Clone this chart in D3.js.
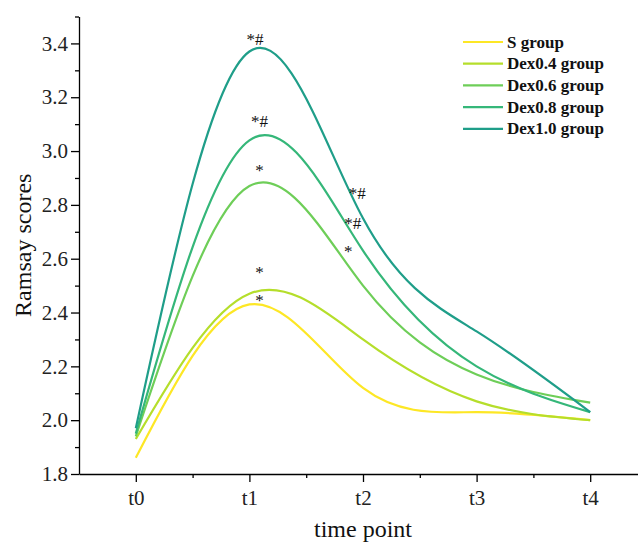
<!DOCTYPE html>
<html>
<head>
<meta charset="utf-8">
<script src="https://cdn.jsdelivr.net/npm/d3@7"></script>
<style>
  body { margin: 0; background: #fff; }
  svg { display: block; }
</style>
</head>
<body>
<div id="container"></div>
<script>
// time points on the x axis
var timeLabels = ["t0", "t1", "t2", "t3", "t4"];

// one series per group
var groupNames = ["S group", "Dex0.4 group", "Dex0.6 group", "Dex0.8 group", "Dex1.0 group"];
var groupColors = ["#fde725", "#b5de2b", "#6ece58", "#35b779", "#1f9e89"];

var sGroup   = [1.86, 2.43, 2.12, 2.03, 2.00];
var dex04    = [1.93, 2.47, 2.30, 2.07, 2.00];
var dex06    = [1.94, 2.87, 2.50, 2.17, 2.065];
var dex08    = [1.95, 3.04, 2.63, 2.20, 2.03];
var dex10    = [1.97, 3.37, 2.75, 2.33, 2.03];

var yTicks = [1.8, 2.0, 2.2, 2.4, 2.6, 2.8, 3.0, 3.2, 3.4];

// significance marks, placed in data units (time index, score)
var markText = ["*#", "*#", "*", "*", "*", "*#", "*#", "*"];
var markT    = [1.05, 1.09, 1.09, 1.09, 1.09, 1.95, 1.91, 1.87];
var markV    = [3.395, 3.09, 2.908, 2.528, 2.424, 2.822, 2.71, 2.606];

function makeChart() {
	var w = 638, h = 546;
	var series = [sGroup, dex04, dex06, dex08, dex10];

	var svg = d3.select("#container")
		.append("svg")
		.attr("width", w)
		.attr("height", h);

	var xScale = d3.scaleLinear()
		.domain([-0.5, 4.5])
		.range([79, 647]);

	var yScale = d3.scaleLinear()
		.domain([1.8, 3.5])
		.range([474, 16.5]);

	var font = "'Liberation Serif', 'Times New Roman', serif";

	// curves
	var line = d3.line()
		.x(function(d, i) { return xScale(i); })
		.y(function(d) { return yScale(d); })
		.curve(d3.curveNatural);

	svg.append("g")
		.selectAll("path")
		.data(series)
		.enter()
		.append("path")
		.attr("d", line)
		.attr("fill", "none")
		.attr("stroke", function(d, i) { return groupColors[i]; })
		.attr("stroke-width", 2.2);

	// y axis
	svg.append("g")
		.attr("transform", "translate(" + xScale(-0.5) + ",0)")
		.call(d3.axisLeft(yScale).tickValues(yTicks).tickFormat(d3.format(".1f")).tickSize(8).tickPadding(3).tickSizeOuter(0));
	svg.append("g")
		.attr("transform", "translate(" + xScale(-0.5) + ",0)")
		.call(d3.axisLeft(yScale).tickValues(d3.range(1.9, 3.55, 0.2)).tickFormat("").tickSize(4).tickSizeOuter(0))
		.select(".domain").remove();

	// x axis
	svg.append("g")
		.attr("transform", "translate(0," + yScale(1.8) + ")")
		.call(d3.axisBottom(xScale).tickValues([0, 1, 2, 3, 4])
			.tickFormat(function(d) { return timeLabels[d]; })
			.tickSize(8).tickPadding(8).tickSizeOuter(0));
	svg.append("g")
		.attr("transform", "translate(0," + yScale(1.8) + ")")
		.call(d3.axisBottom(xScale).tickValues([0.5, 1.5, 2.5, 3.5]).tickFormat("").tickSize(4).tickSizeOuter(0))
		.select(".domain").remove();

	svg.selectAll(".domain").attr("stroke", "#000").attr("stroke-width", 1.3);
	svg.selectAll(".tick line").attr("stroke", "#000").attr("stroke-width", 1.3);
	svg.selectAll(".tick text")
		.attr("font-family", font)
		.attr("font-size", "21px")
		.attr("fill", "#222");

	// axis titles
	svg.append("text")
		.text("time point")
		.attr("x", xScale(2))
		.attr("y", 537)
		.attr("text-anchor", "middle")
		.attr("font-family", font)
		.attr("font-size", "24px")
		.attr("fill", "#111");

	svg.append("text")
		.text("Ramsay scores")
		.attr("transform", "translate(31," + (yScale(1.8) + yScale(3.5)) / 2 + ") rotate(-90)")
		.attr("text-anchor", "middle")
		.attr("font-family", font)
		.attr("font-size", "24px")
		.attr("fill", "#111");

	// significance marks
	svg.append("g")
		.selectAll("text")
		.data(markText)
		.enter()
		.append("text")
		.text(function(d) { return d; })
		.attr("x", function(d, i) { return xScale(markT[i]); })
		.attr("y", function(d, i) { return yScale(markV[i]); })
		.attr("text-anchor", "middle")
		.attr("font-family", font)
		.attr("font-size", "17px")
		.attr("fill", "#111");

	// legend
	var legend = svg.append("g")
		.attr("transform", "translate(463,42)");

	var rows = legend.selectAll("g")
		.data(groupNames)
		.enter()
		.append("g")
		.attr("transform", function(d, i) { return "translate(0," + (i * 21.7) + ")"; });

	rows.append("line")
		.attr("x1", 0)
		.attr("x2", 40)
		.attr("stroke", function(d, i) { return groupColors[i]; })
		.attr("stroke-width", 2.2);

	rows.append("text")
		.text(function(d) { return d; })
		.attr("x", 44)
		.attr("dy", "0.33em")
		.attr("font-family", font)
		.attr("font-weight", "bold")
		.attr("font-size", "17px")
		.attr("fill", "#111");
}

makeChart();
</script>
</body>
</html>
